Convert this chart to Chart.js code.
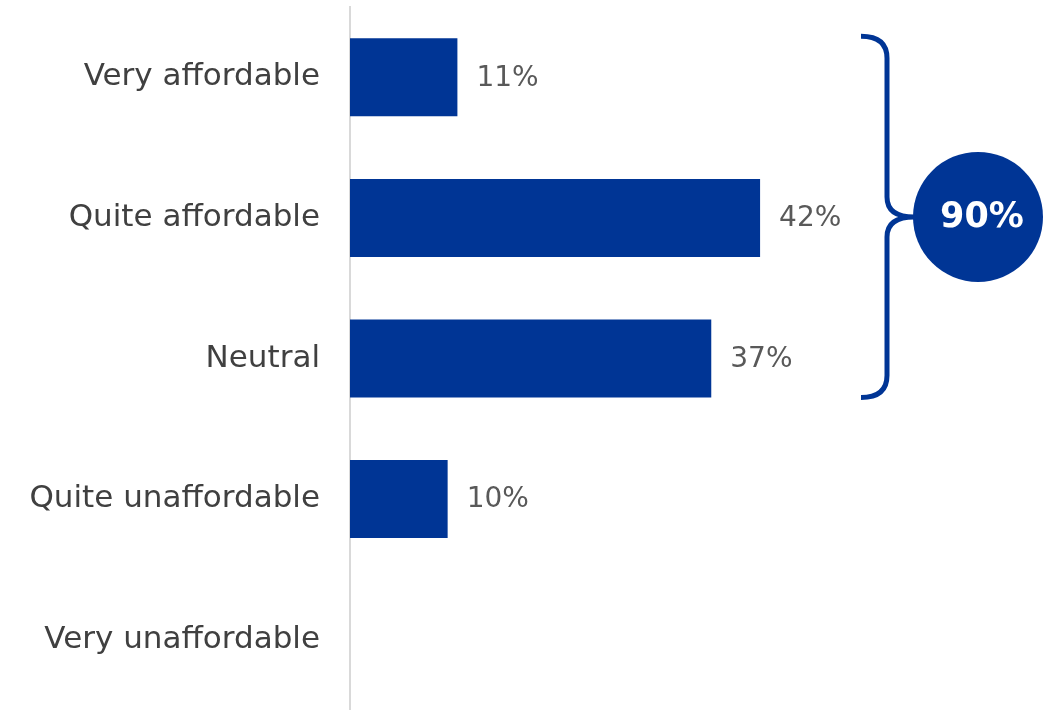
<!DOCTYPE html>
<html>
<head>
<meta charset="utf-8">
<script src="https://cdn.jsdelivr.net/npm/chart.js@4/dist/chart.umd.min.js"></script>
<style>
  html, body { margin: 0; padding: 0; background: #ffffff; }
  #wrap { width: 1053px; height: 710px; position: relative; }
</style>
</head>
<body>
<div id="wrap"><canvas id="c" width="1053" height="710"></canvas></div>
<script>
const categories = ["Very affordable", "Quite affordable", "Neutral", "Quite unaffordable", "Very unaffordable"];
const values = [11, 42, 37, 10, 0];
const groupedIdx = [0, 1, 2];

const FONT = "'DejaVu Sans', sans-serif";
const BLUE = "#003595";

const valueLabels = {
  id: "valueLabels",
  afterDatasetsDraw(chart) {
    const ctx = chart.ctx;
    const meta = chart.getDatasetMeta(0);
    ctx.save();
    ctx.font = "28px " + FONT;
    ctx.fillStyle = "#595959";
    ctx.textAlign = "left";
    ctx.textBaseline = "middle";
    meta.data.forEach((bar, i) => {
      const v = values[i];
      if (!v) return;
      ctx.fillText(v + "%", bar.x + 19, bar.y + 1);
    });
    ctx.restore();
  }
};

const bracket = {
  id: "bracket",
  afterDatasetsDraw(chart) {
    const ctx = chart.ctx;
    const meta = chart.getDatasetMeta(0);
    const first = meta.data[groupedIdx[0]];
    const last = meta.data[groupedIdx[groupedIdx.length - 1]];
    const top = first.y - first.height / 2 - 2;
    const bot = last.y + last.height / 2;
    const mid = (top + bot) / 2;
    const x0 = 861, xv = 887, xt = 914, r = 22;
    ctx.save();
    ctx.strokeStyle = BLUE;
    ctx.lineWidth = 5;
    ctx.lineCap = "butt";
    ctx.beginPath();
    ctx.moveTo(x0, top);
    ctx.quadraticCurveTo(xv, top, xv, top + r);
    ctx.lineTo(xv, mid - 20);
    ctx.quadraticCurveTo(xv, mid, xt, mid);
    ctx.quadraticCurveTo(xv, mid, xv, mid + 20);
    ctx.lineTo(xv, bot - r);
    ctx.quadraticCurveTo(xv, bot, x0, bot);
    ctx.stroke();
    const cx = 978, rad = 65;
    ctx.fillStyle = BLUE;
    ctx.beginPath();
    ctx.arc(cx, mid, rad, 0, Math.PI * 2);
    ctx.fill();
    const total = groupedIdx.reduce((s, i) => s + values[i], 0);
    ctx.fillStyle = "#ffffff";
    ctx.font = "bold 35px " + FONT;
    ctx.textAlign = "center";
    ctx.textBaseline = "middle";
    ctx.fillText(total + "%", cx + 4, mid + 1);
    ctx.restore();
  }
};

new Chart(document.getElementById("c"), {
  type: "bar",
  data: {
    labels: categories,
    datasets: [{
      data: values,
      backgroundColor: BLUE,
      borderWidth: 0,
      barPercentage: 0.555,
      categoryPercentage: 1.0
    }]
  },
  options: {
    indexAxis: "y",
    responsive: false,
    animation: false,
    devicePixelRatio: 1,
    layout: { padding: { top: 7, bottom: 0, left: 0, right: 0 } },
    plugins: { legend: { display: false }, tooltip: { enabled: false } },
    scales: {
      x: { display: false, min: 0, max: 72 },
      y: {
        afterFit(scale) { scale.width = 350; scale.paddingTop = 0; scale.paddingBottom = 0; },
        grid: { display: false, drawTicks: false },
        border: { display: true, color: "#d9d9d9", width: 2 },
        ticks: {
          color: "#404040",
          font: { family: FONT, size: 31 },
          padding: 30
        }
      }
    }
  },
  plugins: [valueLabels, bracket]
});
</script>
</body>
</html>
